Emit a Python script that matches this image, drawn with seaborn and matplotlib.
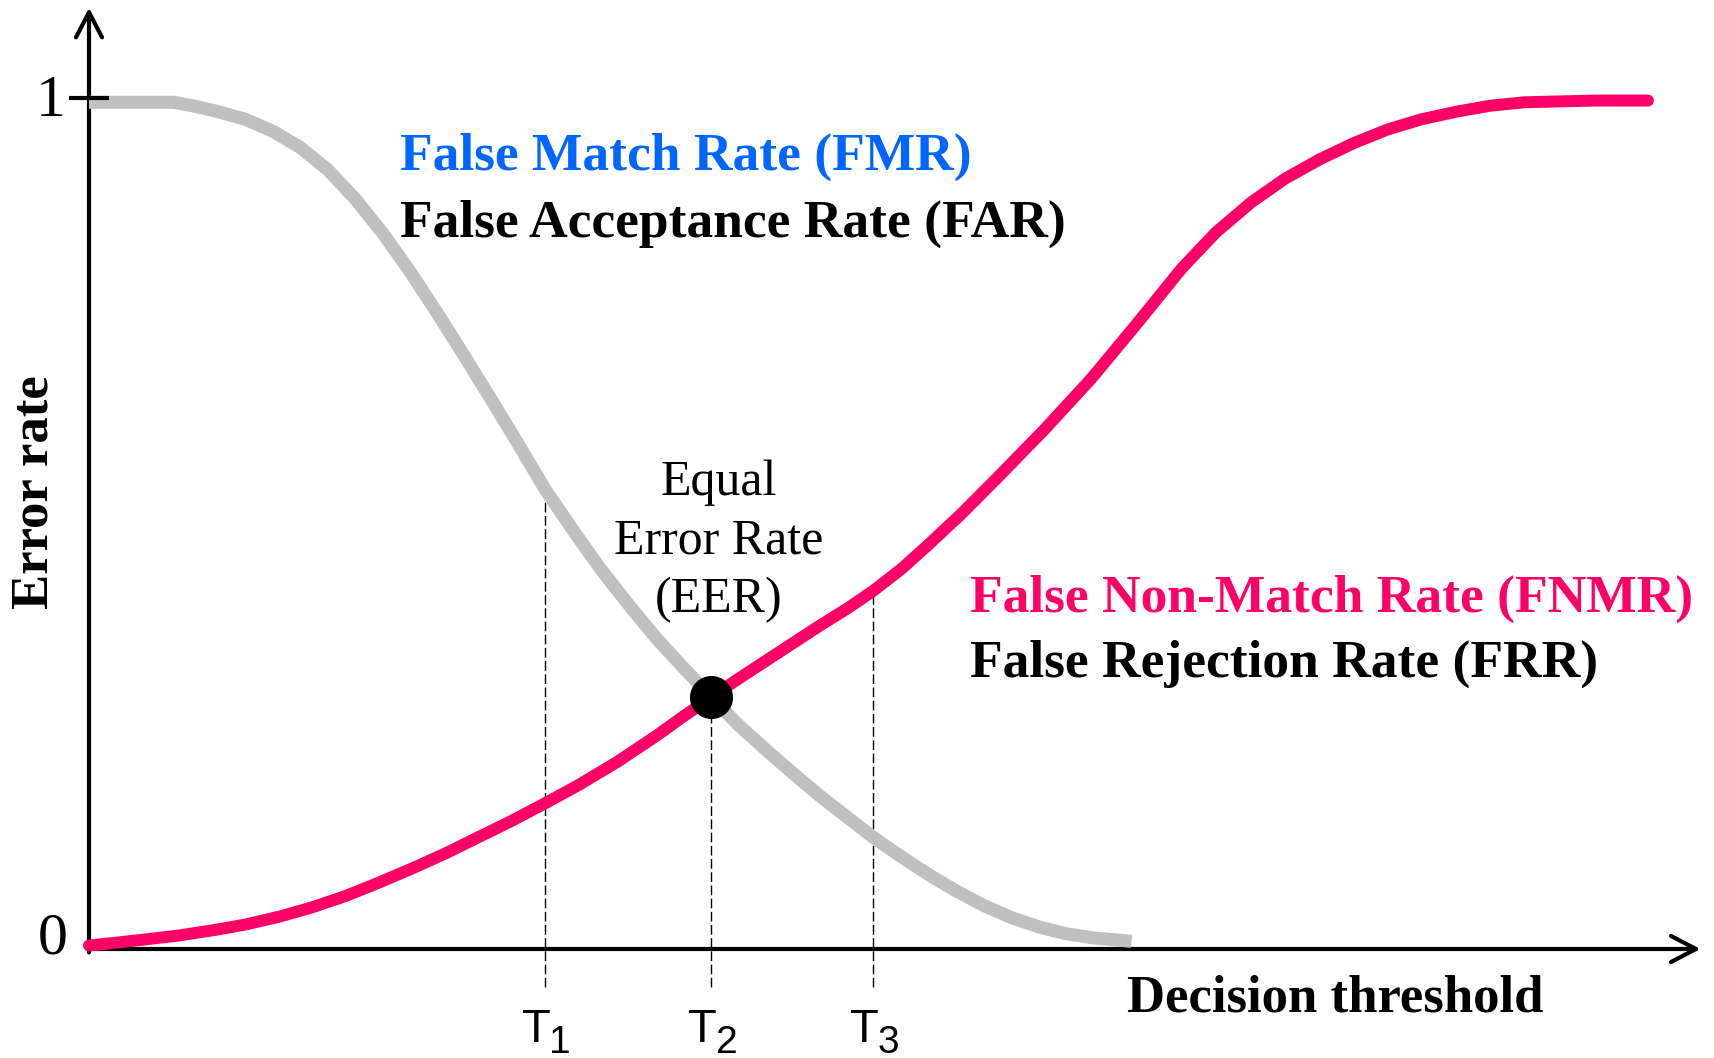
import matplotlib
matplotlib.use("Agg")
import matplotlib.pyplot as plt
import seaborn as sns

# Values (threshold in arbitrary units, error rate 0..1)
fmr_x = [0.0, 0.48, 0.78, 0.98, 1.18, 1.43, 1.68, 1.93, 2.18, 2.43, 2.68, 2.93,
         3.18, 3.43, 3.68, 3.93, 4.17, 4.43, 4.68, 4.93, 5.18, 5.43, 5.69, 5.93,
         6.18, 6.43, 6.68, 6.93, 7.17, 7.43, 7.68, 7.93, 8.18, 8.43, 8.68, 8.93,
         9.18, 9.53]
fmr_y = [0.995, 0.995, 0.995, 0.990, 0.984, 0.975, 0.961, 0.942, 0.916, 0.882,
         0.842, 0.797, 0.748, 0.697, 0.645, 0.592, 0.540, 0.491, 0.446, 0.405,
         0.366, 0.331, 0.296, 0.264, 0.235, 0.207, 0.180, 0.155, 0.131, 0.108,
         0.087, 0.068, 0.051, 0.037, 0.026, 0.018, 0.013, 0.009]

fnmr_x = [0.0, 0.43, 0.83, 1.18, 1.44, 1.74, 2.04, 2.34, 2.65, 2.96, 3.27, 3.57,
          3.87, 4.18, 4.48, 4.83, 5.18, 5.43, 5.69, 5.93, 6.18, 6.43, 6.68, 6.93,
          7.17, 7.43, 7.68, 7.98, 8.32, 8.73, 9.16, 9.58, 9.99, 10.30, 10.62,
          10.93, 11.25, 11.56, 11.87, 12.18, 12.50, 12.81, 13.12, 13.43, 13.75,
          14.25]
fnmr_y = [0.004, 0.010, 0.016, 0.023, 0.029, 0.038, 0.049, 0.062, 0.078, 0.095,
          0.113, 0.132, 0.151, 0.172, 0.193, 0.220, 0.250, 0.273, 0.296, 0.317,
          0.338, 0.359, 0.380, 0.400, 0.421, 0.447, 0.476, 0.512, 0.556, 0.610,
          0.670, 0.735, 0.800, 0.842, 0.877, 0.905, 0.928, 0.947, 0.963, 0.975,
          0.984, 0.991, 0.995, 0.996, 0.997, 0.997]

thresholds = [4.17, 5.69, 7.17]
threshold_tops = [0.545, 0.296, 0.421]
threshold_labels = ["1", "2", "3"]
eer = (5.69, 0.296)

GRAY = "#c0c0c0"
PINK = "#ff0066"
BLUE = "#0066ff"

sns.set_theme(style="white", rc={"text.color": "black"})
plt.rcParams["font.family"] = ["Liberation Serif", "DejaVu Serif"]

W, H = 1715, 1058
fig = plt.figure(figsize=(W / 100, H / 100), dpi=100)
ax = fig.add_axes([0, 0, 1, 1])
ax.set_xlim(-0.8135, 14.863)
ax.set_ylim(-0.1281, 1.1152)
ax.axis("off")


def fx(px):
    return px / W


def fy(py):
    return 1 - py / H


# axes with arrow heads
arrow = dict(arrowstyle="->,head_length=0.45,head_width=0.235", lw=3.0,
             color="black", mutation_scale=40, shrinkA=0, shrinkB=0)
ax.annotate("", xy=(0, 1.106), xytext=(0, -0.004), arrowprops=arrow, zorder=1)
ax.annotate("", xy=(14.73, 0), xytext=(-0.01, 0), arrowprops=arrow, zorder=1)
ax.hlines(1, -0.183, 0.183, color="black", lw=3.0, zorder=5)

# threshold markers
ax.vlines(thresholds, -0.045, threshold_tops, color="black", lw=1.0,
          linestyles=(0, (7, 2.5)), zorder=2)

sns.lineplot(x=fmr_x, y=fmr_y, ax=ax, color=GRAY, linewidth=9.4, zorder=3,
             solid_capstyle="butt", solid_joinstyle="round")
sns.lineplot(x=fnmr_x, y=fnmr_y, ax=ax, color=PINK, linewidth=8.6, zorder=4,
             solid_capstyle="round", solid_joinstyle="round")
ax.plot(*eer, "o", color="black", markersize=30, zorder=6)

# texts
fig.text(fx(51), fy(102), "1", fontsize=43, ha="center", va="center")
fig.text(fx(53), fy(940), "0", fontsize=43, ha="center", va="center")
fig.text(fx(35), fy(492), "Error rate", fontsize=38, fontweight="bold",
         rotation=90, ha="center", va="center")
fig.text(fx(1127), fy(1012), "Decision threshold", fontsize=38,
         fontweight="bold", ha="left", va="baseline")

fig.text(fx(400), fy(170), "False Match Rate (FMR)", fontsize=38.5,
         fontweight="bold", color=BLUE, ha="left", va="baseline")
fig.text(fx(400), fy(237), "False Acceptance Rate (FAR)", fontsize=38.5,
         fontweight="bold", color="black", ha="left", va="baseline")
fig.text(fx(970), fy(612), "False Non-Match Rate (FNMR)", fontsize=38.5,
         fontweight="bold", color=PINK, ha="left", va="baseline")
fig.text(fx(970), fy(677), "False Rejection Rate (FRR)", fontsize=38.5,
         fontweight="bold", color="black", ha="left", va="baseline")

for line, base in zip(["Equal", "Error Rate", "(EER)"], [495, 553, 612]):
    fig.text(fx(719), fy(base), line, fontsize=36, ha="center", va="baseline")

for t, lab in zip(thresholds, threshold_labels):
    px = 89 + t * 109.4
    fig.text(fx(px - 9), fy(1042), "T", fontsize=34, family="Liberation Sans",
             ha="center", va="baseline")
    fig.text(fx(px + 15), fy(1053), lab, fontsize=28, family="Liberation Sans",
             ha="center", va="baseline")

fig.savefig("out.png", dpi=100)
